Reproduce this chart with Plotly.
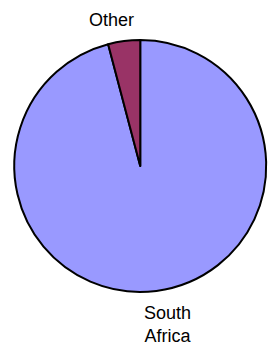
import plotly.graph_objects as go

labels = ["South Africa", "Other"]
values = [95.9, 4.1]
colors = ["#9999FF", "#993366"]

W, H = 271, 348

fig = go.Figure(go.Pie(
    labels=labels,
    values=values,
    sort=False,
    direction="clockwise",
    rotation=0,
    marker=dict(colors=colors, line=dict(color="black", width=2)),
    textinfo="none",
    hoverinfo="label+percent",
    showlegend=False,
    domain=dict(x=[0.05, 0.985], y=[0.161, 0.885]),
))

font = dict(family="Liberation Sans, Arial", size=18, color="black")
# label positions (pixels from top-left)
label_pos = {"Other": (111, 20), "South Africa": (168, 324)}
for lab in labels:
    px, py = label_pos[lab]
    fig.add_annotation(
        text=lab.replace(" ", "<br>"),
        x=px / W, y=1 - py / H, xref="paper", yref="paper",
        xanchor="center", yanchor="middle", showarrow=False,
        font=font, align="center",
    )

fig.update_layout(
    width=W, height=H,
    margin=dict(l=0, r=0, t=0, b=0),
    paper_bgcolor="white", plot_bgcolor="white",
)
fig.write_html("out.html", config={"displayModeBar": False},
               post_script="document.body.style.margin='0';document.body.style.overflow='hidden';")
